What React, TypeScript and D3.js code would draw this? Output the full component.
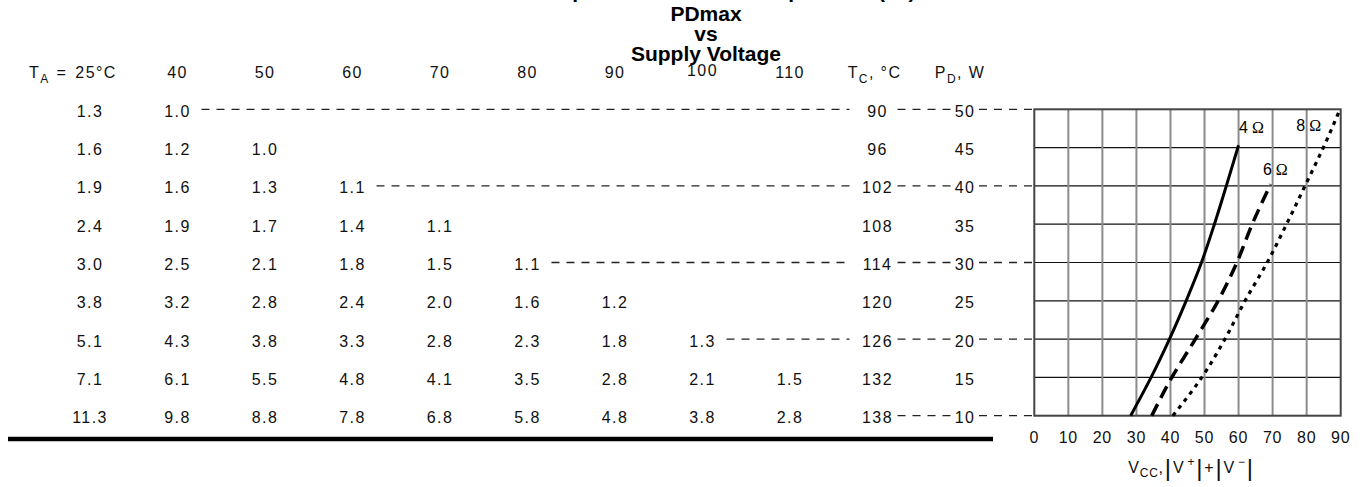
import React from 'react';
import * as d3 from 'd3';

// ---------- data ----------
const titleLines = ['at the Specified Ambient Temperature (°C)', 'PDmax', 'vs', 'Supply Voltage'];
const ambientTemps = [25, 40, 50, 60, 70, 80, 90, 100, 110];
const caseTemps = [90, 96, 102, 108, 114, 120, 126, 132, 138];
const powerLevels = [50, 45, 40, 35, 30, 25, 20, 15, 10];
const heatsinkRows: number[][] = [
  [1.3, 1.0],
  [1.6, 1.2, 1.0],
  [1.9, 1.6, 1.3, 1.1],
  [2.4, 1.9, 1.7, 1.4, 1.1],
  [3.0, 2.5, 2.1, 1.8, 1.5, 1.1],
  [3.8, 3.2, 2.8, 2.4, 2.0, 1.6, 1.2],
  [5.1, 4.3, 3.8, 3.3, 2.8, 2.3, 1.8, 1.3],
  [7.1, 6.1, 5.5, 4.8, 4.1, 3.5, 2.8, 2.1, 1.5],
  [11.3, 9.8, 8.8, 7.8, 6.8, 5.8, 4.8, 3.8, 2.8],
];
const leaderPowers = [50, 40, 30, 20];
const bottomLeaderPower = 10;
const xTicks = [0, 10, 20, 30, 40, 50, 60, 70, 80, 90];
const yGrid = [10, 15, 20, 25, 30, 35, 40, 45, 50];

const curve4ohm: [number, number][] = [
  [28.3, 10], [34.3, 15], [39.7, 20], [44.6, 25], [49.1, 30], [52.9, 35], [56.4, 40], [60.0, 45.3],
];
const curve6ohm: [number, number][] = [
  [34.5, 10], [40.4, 15], [47.3, 20], [54.0, 25], [59.5, 30], [64.0, 35], [69.4, 40.2],
];
const curve8ohm: [number, number][] = [
  [40.7, 10], [49.2, 15], [56.0, 20], [61.9, 25], [68.4, 30], [74.1, 35], [79.5, 40], [84.9, 45], [89.8, 50],
];
const curveLabels = [
  { load: '4', v: 63.8, p: 47.6 },
  { load: '6', v: 70.8, p: 42.1 },
  { load: '8', v: 80.6, p: 47.8 },
];

// ---------- layout ----------
const W = 1364;
const H = 487;
const SANS = '"Liberation Sans", Arial, Helvetica, sans-serif';
const SERIF = '"Liberation Serif", "DejaVu Serif", serif';

export default function App() {
  const x = d3.scaleLinear().domain([0, 90]).range([1034.3, 1340.7]);
  const y = d3.scaleLinear().domain([10, 50]).range([415.7, 109.3]);
  const col = d3.scalePoint<number>().domain(d3.range(11)).range([90, 965]);
  const fmt = d3.format('.1f');
  const line = d3
    .line<[number, number]>()
    .x((d) => x(d[0]))
    .y((d) => y(d[1]))
    .curve(d3.curveMonotoneY);

  const headerY = 78.3;
  const rowBase = (p: number) => y(p) + 7.4;
  const tableFont = { fontFamily: SANS, fontSize: 16, letterSpacing: 1.4, fill: '#111' } as const;
  const dash = { stroke: '#222', strokeWidth: 1.3, strokeDasharray: '8,7', fill: 'none' } as const;

  const leaders: { x1: number; x2: number; y: number }[] = [];
  leaderPowers.forEach((p) => {
    const ri = powerLevels.indexOf(p);
    const lastCol = heatsinkRows[ri].length - 1;
    const yy = y(p);
    leaders.push({ x1: (col(lastCol) as number) + 24, x2: (col(9) as number) - 28, y: yy });
  });
  [...leaderPowers, bottomLeaderPower].forEach((p) => {
    const yy = y(p);
    leaders.push({ x1: (col(9) as number) + 20, x2: (col(10) as number) - 14, y: yy });
    leaders.push({ x1: (col(10) as number) + 14, x2: x(0), y: yy });
  });

  return (
    <svg
      width={W}
      height={H}
      viewBox={`0 0 ${W} ${H}`}
      style={{ position: 'absolute', left: 0, top: 0, background: '#fff', display: 'block' }}
    >
      <rect x={0} y={0} width={W} height={H} fill="#fff" />

      {/* title */}
      <g fontFamily={SANS} fontWeight="bold" fontSize={21} textAnchor="middle" fill="#000">
        {titleLines.map((t, i) => (
          <text key={i} x={706} y={i === 0 ? -2 : 0.5 + i * 20}>
            {t}
          </text>
        ))}
      </g>

      {/* header row */}
      <g {...tableFont}>
        <text x={29} y={headerY}>
          T<tspan fontSize={12} dy={5}>A</tspan>
          <tspan dy={-5} dx={7}>=</tspan>
          <tspan dx={8}>25°C</tspan>
        </text>
        {ambientTemps.slice(1).map((t, i) => (
          <text key={t} x={col(i + 1)} y={headerY - (t === 100 ? 2 : 0)} textAnchor="middle">
            {t}
          </text>
        ))}
        <text x={(col(9) as number) - 3} y={headerY} textAnchor="middle">
          T<tspan fontSize={12} dy={5}>C</tspan>
          <tspan dy={-5}>, °C</tspan>
        </text>
        <text x={(col(10) as number) - 5} y={headerY} textAnchor="middle">
          P<tspan fontSize={12} dy={5}>D</tspan>
          <tspan dy={-5}>, W</tspan>
        </text>
      </g>

      {/* table body */}
      <g {...tableFont} textAnchor="middle">
        {heatsinkRows.map((row, ri) => (
          <g key={ri}>
            {row.map((v, ci) => (
              <text key={ci} x={col(ci)} y={rowBase(powerLevels[ri])}>
                {fmt(v)}
              </text>
            ))}
            <text x={col(9)} y={rowBase(powerLevels[ri])}>
              {caseTemps[ri]}
            </text>
            <text x={col(10)} y={rowBase(powerLevels[ri])}>
              {powerLevels[ri]}
            </text>
          </g>
        ))}
      </g>

      {/* leader dashes */}
      {leaders.map((l, i) => (
        <line key={i} x1={l.x1} x2={l.x2} y1={l.y} y2={l.y} {...dash} />
      ))}

      {/* bottom rule */}
      <line x1={8} x2={993} y1={439} y2={439} stroke="#000" strokeWidth={4.5} />

      {/* chart grid */}
      {yGrid.slice(1, -1).map((p) => (
        <line key={p} x1={x(0)} x2={x(90)} y1={y(p)} y2={y(p)} stroke="#111" strokeWidth={1.2} />
      ))}
      {xTicks.slice(1, -1).map((v) => (
        <line key={v} x1={x(v)} x2={x(v)} y1={y(10)} y2={y(50)} stroke="#8c8c8c" strokeWidth={2} />
      ))}
      <rect
        x={x(0)}
        y={y(50)}
        width={x(90) - x(0)}
        height={y(10) - y(50)}
        fill="none"
        stroke="#444"
        strokeWidth={2}
      />

      {/* curves */}
      <path d={line(curve4ohm) || ''} fill="none" stroke="#000" strokeWidth={3} />
      <path d={line(curve6ohm) || ''} fill="none" stroke="#000" strokeWidth={3.5} strokeDasharray="13,7" />
      <path d={line(curve8ohm) || ''} fill="none" stroke="#000" strokeWidth={3.2} strokeDasharray="4,5" />

      {/* curve labels */}
      {curveLabels.map((c) => (
        <text key={c.load} x={x(c.v)} y={y(c.p) + 5} textAnchor="middle" fontSize={16} fill="#000">
          <tspan fontFamily={SANS}>{c.load}</tspan>
          <tspan fontFamily={SERIF} dx={4}>Ω</tspan>
        </text>
      ))}

      {/* x tick labels */}
      <g fontFamily={SANS} fontSize={16} letterSpacing={0.8} fill="#111" textAnchor="middle">
        {xTicks.map((v) => (
          <text key={v} x={x(v)} y={443}>
            {v}
          </text>
        ))}
      </g>

      {/* x axis title */}
      <text x={1191} y={473} textAnchor="middle" fontFamily={SANS} fontSize={16} letterSpacing={0.8} fill="#111">
        V<tspan fontSize={12} dy={4}>CC</tspan>
        <tspan dy={-4}>,</tspan>
        <tspan fontSize={24} dy={3} dx={1}>|</tspan>
        <tspan dy={-3} dx={1}>V</tspan>
        <tspan fontSize={12} dy={-7} dx={3}>+</tspan>
        <tspan fontSize={24} dy={10} dx={1}>|</tspan>
        <tspan dy={-3} dx={1}>+</tspan>
        <tspan fontSize={24} dy={3} dx={1}>|</tspan>
        <tspan dy={-3} dx={1}>V</tspan>
        <tspan fontSize={12} dy={-7} dx={3}>−</tspan>
        <tspan fontSize={24} dy={10} dx={1}>|</tspan>
      </text>
    </svg>
  );
}
